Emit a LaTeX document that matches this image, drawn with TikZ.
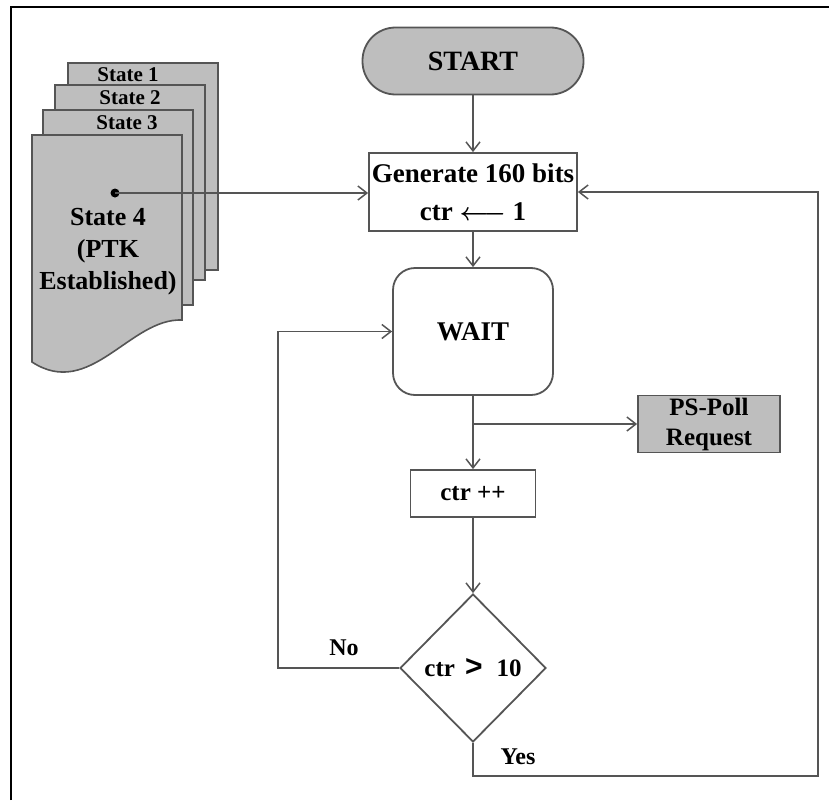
\documentclass[tikz,border=0pt]{standalone}
\usepackage{fontspec}
\setmainfont{Liberation Serif}
\newfontfamily\symfont{Liberation Sans}
\usetikzlibrary{arrows.meta,shapes.geometric,calc}
\definecolor{boxgray}{RGB}{190,190,190}
\definecolor{linegray}{RGB}{85,85,85}
\begin{document}
\begin{tikzpicture}[x=1pt,y=-1pt,
  line/.style={draw=linegray,line width=1.8pt},
  conn/.style={line,-{Straight Barb[length=9pt,width=14pt,line width=1.5pt]}},
  box/.style={draw=linegray,line width=1.8pt,inner sep=0pt,align=center,
    font=\bfseries\fontsize{27}{38}\selectfont},
  pagebox/.style={draw=linegray,line width=1.6pt,fill=boxgray},
  pagetext/.style={font=\bfseries\fontsize{21}{32}\selectfont,align=center,inner sep=0pt},
  lbl/.style={font=\bfseries\fontsize{24}{28}\selectfont,inner sep=0pt}]
\useasboundingbox (0,0) rectangle (829,800);
% frame
\draw[black,line width=2.5pt] (11,800) -- (11,7) -- (829,7);
% state pages
\draw[pagebox] (68,63) rectangle (218,270);
\draw[pagebox] (55,85) rectangle (205,280);
\draw[pagebox] (43,110) rectangle (193,305);
\draw[pagebox] (32,135) -- (182,135) -- (182,320) .. controls (130,318) and (90,400) .. (32,362) -- cycle;
\node[pagetext] (s1) at (128,75) {State 1};
\node[pagetext] (s2) at (130,98) {State 2};
\node[pagetext] (s3) at (127,123) {State 3};
\node[pagetext,font=\bfseries\fontsize{26}{32}\selectfont] (s4) at (108,252) {State 4\\(PTK\\Established)};
\node[circle,fill=black,inner sep=0pt,minimum size=9pt] (dot) at (115,193) {};
% flow nodes
\node[box,fill=boxgray,rounded corners=33pt,minimum width=221pt,minimum height=67pt,
  font=\bfseries\fontsize{28}{34}\selectfont] (start) at (473,61) {START};
\node[box,minimum width=208pt,minimum height=78pt] (gen) at (473,192) {Generate 160 bits\\ctr {\boldmath$\longleftarrow$} 1};
\node[box,rounded corners=22pt,minimum width=160pt,minimum height=127pt] (wait) at (473,331.5) {WAIT};
\node[box,fill=boxgray,minimum width=142pt,minimum height=57pt,
  font=\bfseries\fontsize{25}{30}\selectfont] (ps) at (709,424) {PS-Poll\\Request};
\node[box,minimum width=125pt,minimum height=47pt,font=\bfseries\fontsize{25}{30}\selectfont] (ctr) at (473,493.5) {ctr ++};
\node[diamond,draw=linegray,line width=1.8pt,inner sep=0pt,minimum width=146pt,minimum height=148pt] (dia) at (473,668) {};
\node[lbl,font=\bfseries\fontsize{25}{30}\selectfont] (diat) at (473,668) {ctr\hspace{10pt}{\symfont\fontsize{30}{30}\selectfont >}\hspace{14pt}10};
\node[lbl] (no) at (344,648) {No};
\node[lbl] (yes) at (518,757) {Yes};
% connectors
\coordinate (br) at (473,424);
\coordinate (nl) at (278,668);
\coordinate (yl) at (818,776);
\draw[conn] (start.south) -- (gen.north);
\draw[conn] (dot.center) -- (dot.center -| gen.west);
\draw[conn] (gen.south) -- (wait.north);
\draw[line] (wait.south) -- (br);
\draw[conn] (br) -- (ctr.north);
\draw[conn] (br) -- (ps.west);
\draw[conn] (ctr.south) -- (dia.north);
\draw[conn] (dia.west) -- (nl) |- (wait.west);
\draw[conn] (dia.south) |- (yl) |- (gen.east);
\end{tikzpicture}
\end{document}
